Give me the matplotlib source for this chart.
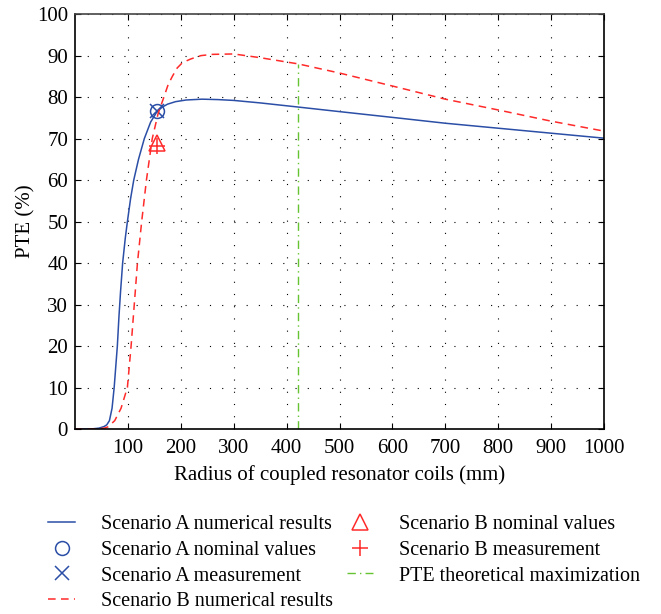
import matplotlib.pyplot as plt

plt.rcParams['font.family'] = ['Liberation Serif', 'DejaVu Serif']

# Scenario A numerical results (radius in mm, PTE in %)
radius_a = [0, 30, 45, 55, 60, 65, 70, 74, 77, 80, 83, 86, 90, 95, 99, 105, 111,
            120, 131, 143, 155, 165, 175, 190, 210, 240, 270, 300, 350, 422, 500,
            615, 700, 800, 900, 1000]
pte_a = [0, 0, 0.2, 0.6, 1.0, 2.0, 5, 10, 15, 20, 27, 33, 40, 46, 50, 55.5, 60,
         65, 70, 74, 76.5, 77.6, 78.3, 78.9, 79.3, 79.5, 79.4, 79.2, 78.6, 77.6,
         76.5, 74.9, 73.7, 72.5, 71.3, 70.1]

# Scenario B numerical results
radius_b = [0, 40, 55, 62, 75, 87, 99, 106, 112, 118, 126, 135, 146, 157, 168,
            176, 184, 193, 203, 219, 238, 260, 300, 350, 422, 500, 615, 700, 800,
            900, 1000]
pte_b = [0, 0, 0.2, 0.5, 2, 5, 10, 20, 30, 40, 50, 60, 70, 76, 80, 83, 85, 87,
         88.3, 89.2, 90, 90.3, 90.4, 89.5, 88, 85.8, 82.2, 79.5, 76.9, 74.2, 71.8]

# Nominal values and measurements
a_nominal = (155, 76.6)
a_measure = (155, 76.6)
b_nominal = (155, 69.0)
b_measure = (155, 68.3)

# PTE theoretical maximization
r_max = 422
pte_max = 88.0

blue = '#2b4ea6'
red = '#ff2a2a'
green = '#66c433'

fig = plt.figure(figsize=(6.61, 6.14), dpi=100)
ax = fig.add_axes([0.1135, 0.3013, 0.8003, 0.6757])

ax.plot(radius_a, pte_a, color=blue, lw=1.1, label='Scenario A numerical results')
ax.plot(*a_nominal, 'o', color=blue, mfc='none', ms=10, mew=1.1,
        label='Scenario A nominal values')
ax.plot(*a_measure, 'x', color=blue, ms=10, mew=1.1, label='Scenario A measurement')
ax.plot(radius_b, pte_b, color=red, lw=1.1, ls=(0, (5, 3.5)),
        label='Scenario B numerical results')
ax.plot(*b_nominal, '^', color=red, mfc='none', ms=11, mew=1.1,
        label='Scenario B nominal values')
ax.plot(*b_measure, '+', color=red, ms=11, mew=1.1, label='Scenario B measurement')
ax.plot([r_max, r_max], [0, pte_max], color=green, lw=1.0, ls=(0, (6, 3, 1, 3)),
        label='PTE theoretical maximization')

ax.set_xlim(0, 1000)
ax.set_ylim(0, 100)
ax.set_xticks(range(100, 1001, 100))
ax.set_yticks(range(0, 101, 10))
ax.grid(True, color='black', lw=0.8, ls=(0, (1, 10)))
ax.tick_params(direction='in', top=True, right=True, length=4, labelsize=15)
ax.tick_params(axis='x', pad=7)
ax.tick_params(axis='y', pad=5)
for s in ax.spines.values():
    s.set_linewidth(1.2)
ax.spines['top'].set_color('#444444')

ax.set_xlabel('Radius of coupled resonator coils (mm)', fontsize=15, labelpad=5)
ax.set_ylabel('PTE (%)', fontsize=15, labelpad=1)

fig.legend(loc='upper left', bbox_to_anchor=(0.055, 0.181), ncol=2, frameon=False,
           fontsize=14.5, handlelength=1.3, columnspacing=0.7, labelspacing=0.33,
           handletextpad=1.3, borderaxespad=0.2)

fig.savefig('out.png', dpi=100)
